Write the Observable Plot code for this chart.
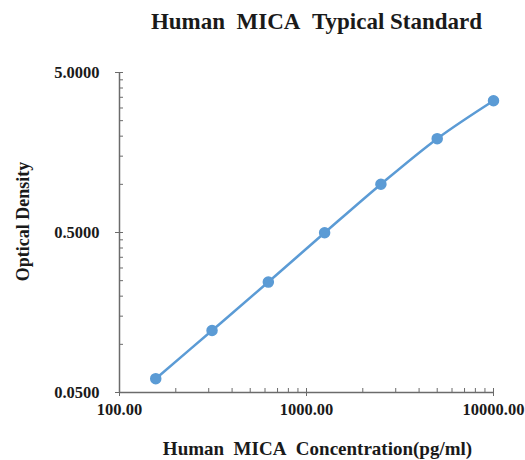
<!DOCTYPE html>
<html>
<head>
<meta charset="utf-8">
<script src="https://cdn.jsdelivr.net/npm/d3@7"></script>
<script src="https://cdn.jsdelivr.net/npm/@observablehq/plot@0.6"></script>
<style>
  html, body { margin: 0; padding: 0; background: #fff; }
</style>
</head>
<body>
<div id="chart"></div>
<script>
const title = "Human\u00a0\u00a0MICA\u00a0\u00a0Typical Standard";
const xLabel = "Human\u00a0\u00a0MICA\u00a0\u00a0Concentration(pg/ml)";
const yLabel = "Optical Density";

const concentration = [156.25, 312.5, 625, 1250, 2500, 5000, 10000];
const opticalDensity = [0.061, 0.122, 0.245, 0.498, 1.002, 1.93, 3.33];

const xMajorTicks = [100, 1000, 10000];
const xMinorTicks = [200, 300, 400, 500, 600, 700, 800, 900, 2000, 3000, 4000, 5000, 6000, 7000, 8000, 9000];
const yMajorTicks = [0.05, 0.5, 5];
const yMinorTicks = [0.1, 0.15, 0.2, 0.25, 0.3, 0.35, 0.4, 0.45, 1, 1.5, 2, 2.5, 3, 3.5, 4, 4.5];

const data = concentration.map((c, i) => ({x: c, y: opticalDensity[i]}));

const font = "'Liberation Serif', 'Times New Roman', serif";
const axisColor = "#6b6b6b";
const blue = "#5b9bd5";
const ink = "#1a1a1a";

const chart = Plot.plot({
  width: 525,
  height: 460,
  marginLeft: 119,
  marginRight: 32,
  marginTop: 72,
  marginBottom: 68,
  style: {fontFamily: font, fontWeight: "bold", fontSize: "16.5px", color: ink, background: "#fff"},
  x: {type: "log", domain: [100, 10000]},
  y: {type: "log", domain: [0.05, 5]},
  marks: [
    // axis lines
    Plot.ruleX([100], {stroke: axisColor, strokeWidth: 1.5}),
    Plot.ruleY([0.05], {stroke: axisColor, strokeWidth: 1.5}),
    // major ticks (crossing) with labels, minor ticks inside
    Plot.axisX({ticks: xMajorTicks, tickSize: 4, tickPadding: 7, stroke: axisColor, tickFormat: d => d.toFixed(2), label: null, fill: ink}),
    Plot.axisX({ticks: xMajorTicks, tickSize: -4, tickFormat: () => "", label: null, stroke: axisColor}),
    Plot.axisX({ticks: xMinorTicks, tickSize: -4, tickFormat: () => "", label: null, stroke: axisColor}),
    Plot.axisY({ticks: yMajorTicks, tickSize: 4, tickPadding: 16, stroke: axisColor, tickFormat: d => d.toFixed(4), label: null, fill: ink}),
    Plot.axisY({ticks: yMajorTicks, tickSize: -4, tickFormat: () => "", label: null, stroke: axisColor}),
    Plot.axisY({ticks: yMinorTicks, tickSize: -4, tickFormat: () => "", label: null, stroke: axisColor}),
    // data
    Plot.line(data, {x: "x", y: "y", curve: "catmull-rom", stroke: blue, strokeWidth: 2.5}),
    Plot.dot(data, {x: "x", y: "y", r: 5, fill: blue, stroke: blue}),
    // titles
    Plot.text([title], {text: d => d, frameAnchor: "top", lineAnchor: "middle", dy: -51, dx: 10, fontSize: 23, fontWeight: "bold", fill: ink}),
    Plot.text([xLabel], {text: d => d, frameAnchor: "bottom", lineAnchor: "middle", dy: 56, dx: 11, fontSize: 19, fontWeight: "bold", fill: ink}),
    Plot.text([yLabel], {text: d => d, frameAnchor: "left", textAnchor: "middle", lineAnchor: "middle", dx: -96, dy: -11, rotate: -90, fontSize: 18, fontWeight: "bold", fill: ink})
  ]
});

document.getElementById("chart").appendChild(chart);
</script>
</body>
</html>
